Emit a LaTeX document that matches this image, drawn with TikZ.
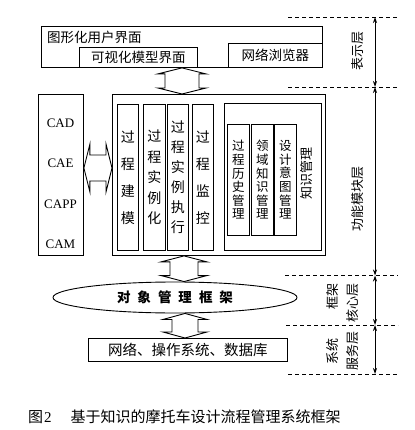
\documentclass[tikz,border=0pt]{standalone}
\usepackage{fontspec}
\setmainfont{Liberation Serif}
\newfontfamily\cjk{Noto Sans CJK SC}
\usetikzlibrary{shapes.geometric,arrows.meta,calc}
\tikzset{
  box/.style={draw, line width=0.9pt, inner sep=0pt, anchor=north west, align=center},
  blk/.style={draw, line width=0.9pt, fill=white, line join=miter},
  dashline/.style={line width=0.8pt, dash pattern=on 4pt off 3pt},
  layerarrow/.style={{Stealth[length=6pt,width=4pt]}-{Stealth[length=6pt,width=4pt]}, line width=0.8pt},
  cn/.style={font=\cjk\fontsize{13.5}{16}\selectfont, inner sep=0pt},
  lat/.style={font=\fontsize{13}{15}\selectfont, inner sep=0pt},
  side/.style={font=\cjk\fontsize{13}{20}\selectfont, inner sep=0pt, rotate=90},
}
\newcommand\vblock[4]{\draw[blk] let \p1=(#1), \p2=(#2) in
  (\x1,\y1) -- (\x1+#4pt,\y1-6pt) -- (\x1+#3pt,\y1-6pt) -- (\x1+#3pt,\y2+6pt) --
  (\x1+#4pt,\y2+6pt) -- (\x1,\y2) -- (\x1-#4pt,\y2+6pt) -- (\x1-#3pt,\y2+6pt) --
  (\x1-#3pt,\y1-6pt) -- (\x1-#4pt,\y1-6pt) -- cycle;}
\newcommand\hblock[4]{\draw[blk] let \p1=(#1), \p2=(#2) in
  (\x1,\y1) -- (\x1+6pt,\y1+#4pt) -- (\x1+6pt,\y1+#3pt) -- (\x2-6pt,\y1+#3pt) --
  (\x2-6pt,\y1+#4pt) -- (\x2,\y1) -- (\x2-6pt,\y1-#4pt) -- (\x2-6pt,\y1-#3pt) --
  (\x1+6pt,\y1-#3pt) -- (\x1+6pt,\y1-#4pt) -- cycle;}
\begin{document}
\begin{tikzpicture}[x=1pt,y=-1pt]
\useasboundingbox[fill=white] (0,0) rectangle (414,430);

% presentation layer
\node[box, minimum width=281pt, minimum height=41pt] (gui) at (41,26) {};
\node[cn, anchor=west] (guit) at (47,37) {图形化用户界面};
\node[box, cn, minimum width=118pt, minimum height=20pt] (vis) at (79,47) {可视化模型界面};
\node[box, cn, minimum width=94pt, minimum height=24pt] (web) at (228,43) {网络浏览器};

% CAx box
\node[box, minimum width=45pt, minimum height=161pt] (cax) at (38,94) {};
\node[lat] (cad) at (60.5,123) {CAD};
\node[lat] (cae) at (60.5,163) {CAE};
\node[lat] (capp) at (60.5,204) {CAPP};
\node[lat] (cam) at (60.5,244) {CAM};

% function module layer
\node[box, minimum width=213pt, minimum height=161pt] (func) at (112,94) {};
\node[box, minimum width=21pt, minimum height=146pt, font=\cjk\fontsize{14}{27}\selectfont] (c1) at (117,104) {过\\程\\建\\模};
\node[box, minimum width=22pt, minimum height=146pt, font=\cjk\fontsize{14}{20.5}\selectfont] (c2) at (143,104) {过\\程\\实\\例\\化};
\node[box, minimum width=21pt, minimum height=146pt, font=\cjk\fontsize{14}{20}\selectfont] (c3) at (167,104) {过\\程\\实\\例\\执\\行};
\node[box, minimum width=21pt, minimum height=146pt, font=\cjk\fontsize{14}{27}\selectfont] (c4) at (192,104) {过\\程\\监\\控};

\node[box, minimum width=97pt, minimum height=147pt] (km) at (224,103) {};
\node[box, minimum width=22pt, minimum height=111pt, font=\cjk\fontsize{12.5}{13.6}\selectfont] (k1) at (227,124) {过\\程\\历\\史\\管\\理};
\node[box, minimum width=22pt, minimum height=111pt, font=\cjk\fontsize{12.5}{13.6}\selectfont] (k2) at (251,124) {领\\域\\知\\识\\管\\理};
\node[box, minimum width=22pt, minimum height=111pt, font=\cjk\fontsize{12.5}{13.6}\selectfont] (k3) at (274,124) {设\\计\\意\\图\\管\\理};
\node[side] (kmt) at (307,174) {知识管理};

% framework core
\node[draw, line width=0.9pt, ellipse, minimum width=244pt, minimum height=31pt, inner sep=0pt,
      font=\cjk\bfseries\fontsize{13.5}{16}\selectfont] (obj) at (175,297.5)
      {对\hspace{7pt}象\hspace{7pt}管\hspace{7pt}理\hspace{7pt}框\hspace{7pt}架};

% system service
\node[box, minimum width=199pt, minimum height=23pt, font=\cjk\fontsize{14.5}{16}\selectfont] (os) at (88,338) {网络、操作系统、数据库};

% block arrows
\vblock{gui.south}{gui.south |- func.north}{17}{24}
\coordinate (hy) at (0,168);
\hblock{cax.east |- hy}{func.west |- hy}{13}{24}
\coordinate (xa) at (184,0);
\vblock{func.south -| xa}{obj.north -| xa}{14}{23}
\coordinate (xb) at (185,0);
\vblock{obj.south -| xb}{os.north -| xb}{13}{22}

% layer markers
\coordinate (L0) at (375,17);
\coordinate (L1) at (375,87);
\coordinate (L2) at (375,275.5);
\coordinate (L3) at (375,325);
\coordinate (L4) at (375,374);
\draw[dashline] (288,17) -- (398,17);
\draw[dashline] (288,87) -- (398,87);
\draw[dashline] (285,275.5) -- (398,275.5);
\draw[dashline] (286,325) -- (398,325);
\draw[dashline] (288,374) -- (398,374);
\draw[layerarrow] (L0) -- (L1);
\draw[layerarrow] (L1) -- (L2);
\draw[layerarrow] (L2) -- (L3);
\draw[layerarrow] (L3) -- (L4);
\node[side] (t1) at (358,51) {表示层};
\node[side] (t2) at (358,199) {功能模块层};
\node[side, align=right, anchor=east] (t3) at (343,283) {框架\\核心层};
\node[side, align=center] (t4) at (343,351) {系统\\服务层};

% caption
\node[anchor=west, inner sep=0pt, font=\fontsize{15}{17}\selectfont] (cap) at (28,417)
  {{\cjk 图}\kern1pt 2\hspace{19pt}{\cjk 基于知识的摩托车设计流程管理系统框架}};
\end{tikzpicture}
\end{document}
